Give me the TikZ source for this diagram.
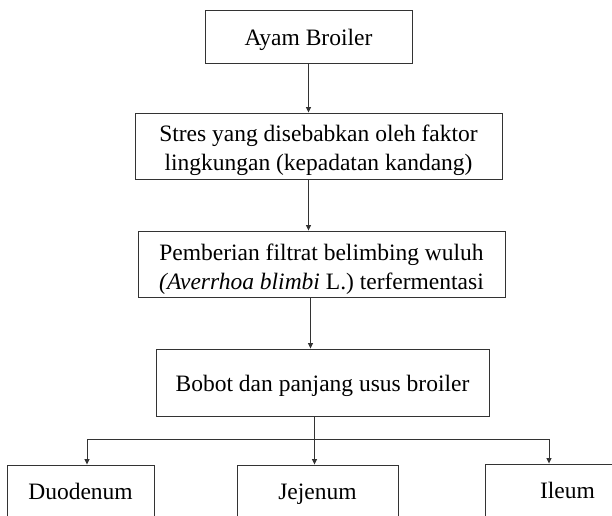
\documentclass[tikz,border=0pt]{standalone}
\usepackage{fontspec}
\setmainfont{Liberation Serif}
\usetikzlibrary{arrows.meta,calc}
\begin{document}
\begin{tikzpicture}[x=1pt,y=-1pt,
  box/.style={draw=black!80,line width=0.9pt,inner sep=0pt,
    font=\fontsize{23.5}{29}\selectfont,text=black},
  two/.style={box,align=center},
  one/.style={box,text height=18.5pt,text depth=0pt},
  bot/.style={box,text height=0pt,text depth=12pt,minimum height=80},
  con/.style={draw=black!80,line width=0.9pt},
  arr/.style={con,-{Triangle[length=5.5pt,width=5pt]}}]
\useasboundingbox (0,0) rectangle (612,515);
\clip (0,0) rectangle (612,515);
\fill[white] (0,0) rectangle (612,515);

\node[one,minimum width=207,minimum height=53] (b1) at (308.5,36.5) {Ayam Broiler};
\node[two,minimum width=367,minimum height=66] (b2) at (318.5,146)
  {\rule{0pt}{26pt}Stres yang disebabkan oleh faktor\\lingkungan (kepadatan kandang)};
\node[two,minimum width=367,minimum height=66] (b3) at (321.5,264)
  {\rule{0pt}{26pt}Pemberian filtrat belimbing wuluh\\\textit{(Averrhoa blimbi} L.) terfermentasi};
\node[one,minimum width=333,minimum height=67] (b4) at (322.5,382.5) {Bobot dan panjang usus broiler};

\node[bot,minimum width=147] (d) at (80.5,505) {Duodenum};
\node[bot,minimum width=161] (j) at (317.5,505) {Jejenum};
\node[bot,minimum width=165] (i) at (567.5,504) {Ileum};

\coordinate (s) at ([xshift=-8pt]b4.south);
\coordinate (m) at ($(s)+(0,23)$);

\draw[arr] (b1.south) -- (b1.south |- b2.north);
\draw[arr] (b2.south -| b1.south) -- (b3.north -| b1.south);
\draw[arr] ([xshift=-11pt]b3.south) -- ([xshift=-11pt]b3.south |- b4.north);
\draw[con] (s) -- (m);
\draw[arr] (m -| 87,0) -- (87,0 |- d.north);
\draw[con] (m -| 87,0) -- (m -| 549,0);
\draw[arr] (m) -- (m |- j.north);
\draw[arr] (m -| 549,0) -- (549,0 |- i.north);
\end{tikzpicture}
\end{document}
